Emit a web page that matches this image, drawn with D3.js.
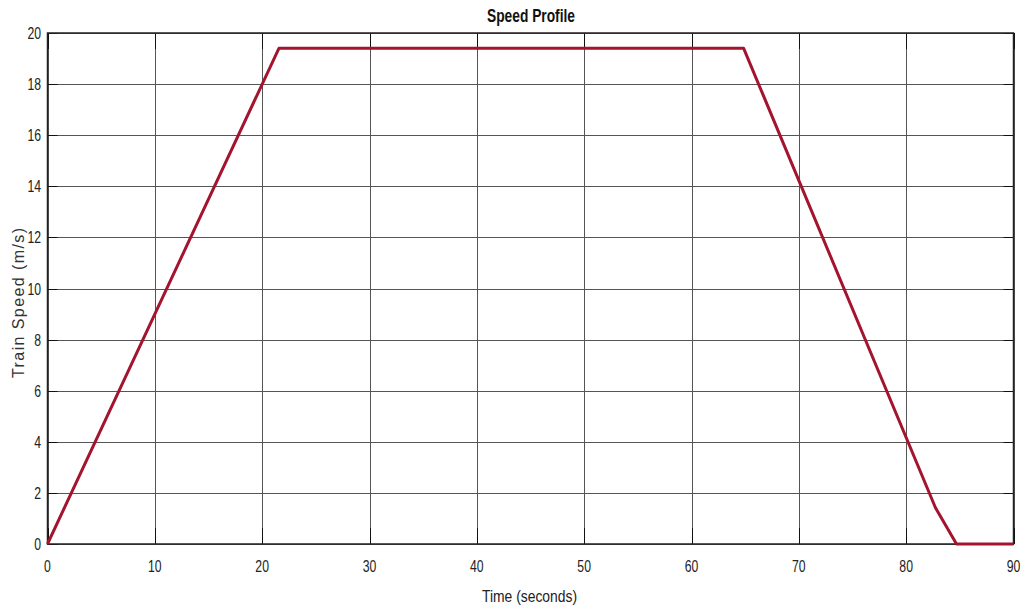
<!DOCTYPE html>
<html>
<head>
<meta charset="utf-8">
<script src="https://cdn.jsdelivr.net/npm/d3@7"></script>
<style>
  body { margin: 0; background: #fff; }
  text { font-family: "Liberation Sans", Arial, sans-serif; }
</style>
</head>
<body>
<svg id="chart" width="1022" height="609"></svg>
<script>
// speed profile breakpoints
const timeValues = [0, 21.56, 64.86, 82.73, 84.69, 90];
const speedValues = [0, 19.4, 19.4, 1.42, 0, 0];

const xTicks = [0, 10, 20, 30, 40, 50, 60, 70, 80, 90];
const yTicks = [0, 2, 4, 6, 8, 10, 12, 14, 16, 18, 20];

const titleText = "Speed Profile";
const xLabelText = "Time (seconds)";
const yLabelText = "Train Speed (m/s)";

const margin = { left: 47.5, right: 1013.5, top: 33, bottom: 544 };

// horizontal squeeze to mimic the narrow font of the original
const squeeze = 0.72;

const svg = d3.select("#chart");

let x = d3.scaleLinear().domain([0, 90]).range([margin.left, margin.right]);
let y = d3.scaleLinear().domain([0, 20]).range([margin.bottom, margin.top]);

// grid lines
let grid = svg.append("g").attr("class", "grid");
grid.selectAll("line.vx")
    .data(xTicks)
    .enter().append("line")
    .attr("x1", d => Math.round(x(d)) + 0.5)
    .attr("x2", d => Math.round(x(d)) + 0.5)
    .attr("y1", margin.top)
    .attr("y2", margin.bottom)
    .style("stroke", "#555")
    .style("stroke-width", 1);
grid.selectAll("line.hy")
    .data(yTicks)
    .enter().append("line")
    .attr("x1", margin.left)
    .attr("x2", margin.right)
    .attr("y1", d => Math.round(y(d)) + 0.5)
    .attr("y2", d => Math.round(y(d)) + 0.5)
    .style("stroke", "#555")
    .style("stroke-width", 1);

// inner tick marks (darker)
let ticks = svg.append("g").attr("class", "ticks").style("stroke", "#111").style("stroke-width", 1);
xTicks.forEach(d => {
    let px = Math.round(x(d)) + 0.5;
    ticks.append("line").attr("x1", px).attr("x2", px).attr("y1", margin.bottom).attr("y2", margin.bottom - 16);
    ticks.append("line").attr("x1", px).attr("x2", px).attr("y1", margin.top).attr("y2", margin.top + 16);
});
yTicks.forEach(d => {
    let py = Math.round(y(d)) + 0.5;
    ticks.append("line").attr("x1", margin.left).attr("x2", margin.left + 10).attr("y1", py).attr("y2", py);
    ticks.append("line").attr("x1", margin.right).attr("x2", margin.right - 10).attr("y1", py).attr("y2", py);
});

// frame
svg.append("rect")
    .attr("x", margin.left)
    .attr("y", margin.top)
    .attr("width", margin.right - margin.left)
    .attr("height", margin.bottom - margin.top)
    .style("fill", "none")
    .style("stroke", "#222")
    .style("stroke-width", 1.5);

// speed line
let line = d3.line()
    .x((d, i) => x(timeValues[i]))
    .y(d => y(d));
svg.append("path")
    .datum(speedValues)
    .attr("d", line)
    .style("fill", "none")
    .style("stroke", "#A3142F")
    .style("stroke-width", 3)
    .style("stroke-linejoin", "round");

// tick labels
svg.append("g")
    .selectAll("text")
    .data(xTicks)
    .enter().append("text")
    .attr("transform", d => "translate(" + x(d) + ",572) scale(" + squeeze + ",1)")
    .attr("text-anchor", "middle")
    .style("font-size", "17px")
    .style("fill", "#222")
    .text(d => d);

svg.append("g")
    .selectAll("text")
    .data(yTicks)
    .enter().append("text")
    .attr("transform", d => "translate(41," + (y(d) + 6) + ") scale(" + squeeze + ",1)")
    .attr("text-anchor", "end")
    .style("font-size", "17px")
    .style("fill", "#222")
    .text(d => d);

// title + axis labels
svg.append("text")
    .attr("x", 531)
    .attr("y", 22)
    .attr("text-anchor", "middle")
    .attr("textLength", 88)
    .attr("lengthAdjust", "spacingAndGlyphs")
    .style("font-size", "18px")
    .style("font-weight", "bold")
    .style("fill", "#111")
    .text(titleText);

svg.append("text")
    .attr("x", 529.5)
    .attr("y", 602)
    .attr("text-anchor", "middle")
    .attr("textLength", 95)
    .attr("lengthAdjust", "spacingAndGlyphs")
    .style("font-size", "17px")
    .style("fill", "#222")
    .text(xLabelText);

svg.append("text")
    .attr("transform", "translate(24,303) rotate(-90)")
    .attr("text-anchor", "middle")
    .attr("textLength", 150)
    .attr("lengthAdjust", "spacing")
    .style("font-size", "16px")
    .style("fill", "#333")
    .text(yLabelText);
</script>
</body>
</html>
